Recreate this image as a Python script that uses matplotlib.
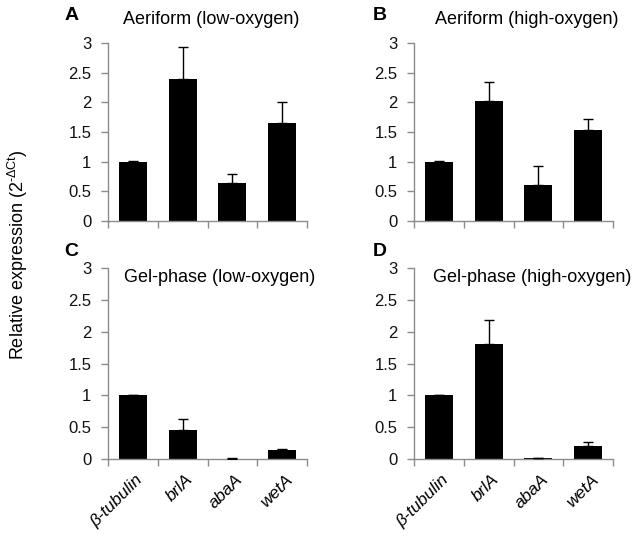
import matplotlib
matplotlib.use("Agg")
import matplotlib.pyplot as plt
import numpy as np

plt.rcParams['font.family'] = ['Liberation Sans', 'DejaVu Sans']
plt.rcParams['mathtext.fontset'] = 'custom'
plt.rcParams['mathtext.rm'] = 'Liberation Sans'

genes = ["β-tubulin", "brlA", "abaA", "wetA"]
titles = ["Aeriform (low-oxygen)", "Aeriform (high-oxygen)",
          "Gel-phase (low-oxygen)", "Gel-phase (high-oxygen)"]
letters = ["A", "B", "C", "D"]
values = [
    [1.00, 2.40, 0.64, 1.66],
    [1.00, 2.03, 0.60, 1.53],
    [1.00, 0.45, 0.005, 0.14],
    [1.00, 1.80, 0.008, 0.20],
]
errors = [
    [0.01, 0.53, 0.16, 0.35],
    [0.01, 0.31, 0.32, 0.19],
    [0.01, 0.18, 0.003, 0.02],
    [0.01, 0.39, 0.01, 0.07],
]
yticks = [0, 0.5, 1, 1.5, 2, 2.5, 3]
yticklabels = ["0", "0.5", "1", "1.5", "2", "2.5", "3"]

W, H = 642, 537
fig = plt.figure(figsize=(W / 100, H / 100), dpi=100)

def px_axes(l, t, r, b):
    return fig.add_axes([l / W, 1 - b / H, (r - l) / W, (b - t) / H])

boxes = [(108, 43, 307, 221), (414, 43, 613, 221),
         (108, 268, 307, 459), (414, 268, 613, 459)]
title_pos = [(211, 20), (527, 20), (220, 278), (532, 278)]
letter_pos = [(72, 16), (380, 16), (71, 251), (380, 251)]
gray = "#8c8c8c"

for i in range(4):
    ax = px_axes(*boxes[i])
    x = np.arange(len(genes))
    ax.bar(x, values[i], width=0.56, color="black", edgecolor="none", zorder=2)
    ax.errorbar(x, values[i], yerr=[np.zeros(4), errors[i]], fmt="none",
                ecolor="black", elinewidth=1.0, capsize=3.3, capthick=1.0, zorder=3)
    ax.set_xlim(-0.5, 3.5)
    ax.set_ylim(0, 3)
    ax.set_yticks(yticks)
    ax.set_yticklabels(yticklabels, fontsize=12)
    ax.set_xticks(np.arange(-0.5, 4.0, 1.0))
    ax.set_xticklabels([])
    for s in ["top", "right"]:
        ax.spines[s].set_visible(False)
    for s in ["left", "bottom"]:
        ax.spines[s].set_color(gray)
        ax.spines[s].set_linewidth(1.0)
    ax.tick_params(axis="both", color=gray, length=5, width=1.0, direction="out")
    ax.tick_params(axis="y", pad=7, labelcolor="#111111")
    ax.patch.set_alpha(0)
    if i >= 2:
        for xi, g in enumerate(genes):
            ax.text(xi + 0.05, -0.2, g, rotation=45, rotation_mode="anchor",
                    ha="right", va="top", fontsize=12.5, style="italic",
                    transform=ax.transData, clip_on=False)
    tx, ty = title_pos[i]
    fig.text(tx / W, 1 - ty / H, titles[i], ha="center", va="center", fontsize=13)
    lx, ly = letter_pos[i]
    fig.text(lx / W, 1 - ly / H, letters[i], ha="center", va="center",
             fontsize=14, fontweight="bold")

fig.text(18 / W, 1 - 255 / H, "Relative expression (2$^{\\mathrm{\u2010\u0394Ct}}$)",
         rotation=90, ha="center", va="center", fontsize=13)

fig.savefig("out.png", dpi=100)
